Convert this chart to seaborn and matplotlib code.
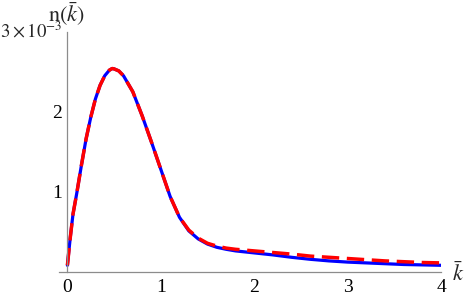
import matplotlib
matplotlib.use("Agg")
import matplotlib.pyplot as plt
import numpy as np
import seaborn as sns
from matplotlib.ticker import FixedLocator, FixedFormatter, MultipleLocator

# k-bar grid and n(k-bar) in units of 1e-3
k_bar = [0.0, 0.03, 0.06, 0.1, 0.15, 0.2, 0.25, 0.3, 0.35, 0.4, 0.45, 0.48,
         0.5, 0.55, 0.6, 0.7, 0.8, 0.9, 1.0, 1.1, 1.2, 1.3, 1.4, 1.5, 1.6,
         1.7, 1.8, 2.0, 2.2, 2.4, 2.6, 2.8, 3.0, 3.2, 3.4, 3.6, 3.8, 4.0]
n_solid = [0.08, 0.42, 0.72, 0.98, 1.33, 1.66, 1.93, 2.16, 2.33, 2.45, 2.52,
           2.54, 2.535, 2.51, 2.45, 2.25, 1.95, 1.62, 1.28, 0.94, 0.68, 0.51,
           0.41, 0.345, 0.305, 0.28, 0.26, 0.235, 0.21, 0.18, 0.155, 0.135,
           0.12, 0.11, 0.10, 0.09, 0.085, 0.08]
n_dashed = [0.08, 0.42, 0.72, 0.98, 1.33, 1.66, 1.93, 2.16, 2.33, 2.45, 2.52,
            2.54, 2.535, 2.51, 2.45, 2.25, 1.95, 1.62, 1.28, 0.94, 0.68, 0.52,
            0.42, 0.355, 0.32, 0.295, 0.28, 0.26, 0.24, 0.22, 0.195, 0.18,
            0.165, 0.15, 0.135, 0.125, 0.115, 0.11]

y_ticks = [1, 2, 3]
y_tick_labels = ["1", "2", ""]
y_top_label = r"$3\times10^{-3}$"
x_ticks = [0, 1, 2, 3, 4]

sns.set_theme(style="white")
plt.rcParams["font.family"] = ["Liberation Serif", "DejaVu Serif"]
plt.rcParams["mathtext.fontset"] = "stix"

fig = plt.figure(figsize=(4.7, 2.99), dpi=100)
ax = fig.add_axes([59 / 470, 27.3 / 299, 382 / 470, 240 / 299])

sns.lineplot(x=k_bar, y=n_solid, ax=ax, color=(0, 0, 1), linewidth=2.3)
sns.lineplot(x=k_bar, y=n_dashed, ax=ax, color=(1, 0, 0), linewidth=2.5,
             linestyle=(0, (5, 2.2)))

ax.set_xlim(-0.09, 4.0)
ax.set_ylim(0, 3.0)

gray = "#8c8c8c"
for side in ["top", "right"]:
    ax.spines[side].set_visible(False)
ax.spines["left"].set_position(("data", 0))
ax.spines["left"].set_bounds(0, 3.0)
ax.spines["bottom"].set_bounds(-0.09, 4.0)
for side in ["left", "bottom"]:
    ax.spines[side].set_color(gray)
    ax.spines[side].set_linewidth(0.9)

ax.xaxis.set_major_locator(FixedLocator(x_ticks))
ax.xaxis.set_minor_locator(MultipleLocator(0.2))
ax.yaxis.set_major_locator(FixedLocator(y_ticks))
ax.yaxis.set_major_formatter(FixedFormatter(y_tick_labels))
ax.yaxis.set_minor_locator(MultipleLocator(0.5))

ax.tick_params(which="both", direction="in", color=gray, width=0.8,
               labelsize=14, labelcolor="black")
ax.tick_params(axis="x", which="major", length=4, pad=5)
ax.tick_params(axis="x", which="minor", length=2.5)
ax.tick_params(axis="y", which="major", length=5, pad=4)
ax.tick_params(axis="y", which="minor", length=3)

ax.annotate(y_top_label, xy=(0, 3.0), xycoords="data", xytext=(-3.5, 0),
            textcoords="offset points", ha="right", va="center",
            fontsize=13.5, annotation_clip=False)

ax.set_xlabel("")
ax.set_ylabel("")
fig.text(458 / 470, 1 - 274 / 299, r"$\bar{k}$", fontsize=16,
         ha="center", va="center")
fig.text(66 / 470, 1 - 14 / 299, r"$\mathrm{n}(\bar{k})$", fontsize=16,
         ha="center", va="center")

ax.grid(False)
fig.savefig("out.png", dpi=100)
